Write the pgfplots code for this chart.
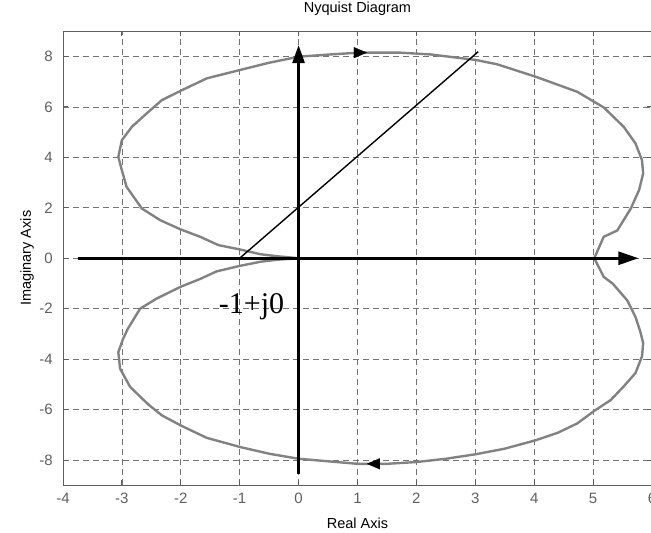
\documentclass[border=0pt]{standalone}
\usepackage{fontspec}
\setmainfont{Liberation Sans}
\newfontfamily\pointfont{Liberation Serif}
\usepackage{pgfplots}
\usepackage{pgfplotstable}
\pgfplotsset{compat=1.18}
\usetikzlibrary{arrows.meta}

\definecolor{axgray}{RGB}{95,95,95}
\definecolor{curvegray}{RGB}{130,130,130}
\definecolor{gridgray}{RGB}{115,115,115}

% Nyquist locus: lower branch from (5,0) to the origin, then upper branch back
\pgfplotstableread{
re im
5.02 0.00
5.18 -0.74
5.33 -1.00
5.58 -1.67
5.72 -2.33
5.80 -2.90
5.85 -3.36
5.83 -3.89
5.72 -4.55
5.52 -5.08
5.30 -5.62
5.02 -6.05
4.73 -6.55
4.40 -6.92
4.02 -7.22
3.50 -7.55
3.01 -7.77
2.50 -7.95
2.00 -8.08
1.50 -8.15
1.00 -8.15
0.50 -8.05
0.00 -7.95
-0.50 -7.75
-1.00 -7.48
-1.56 -7.12
-2.00 -6.63
-2.32 -6.23
-2.55 -5.80
-2.86 -5.10
-3.03 -4.38
-3.06 -3.72
-2.98 -3.20
-2.90 -2.80
-2.69 -2.00
-2.41 -1.60
-2.01 -1.14
-1.67 -0.82
-1.39 -0.52
-0.99 -0.30
-0.65 -0.14
-0.37 -0.06
0.00 0.00
-0.37 0.08
-0.65 0.16
-1.00 0.35
-1.36 0.52
-1.67 0.85
-2.01 1.15
-2.35 1.51
-2.66 1.97
-2.92 2.83
-3.00 3.49
-3.06 4.02
-3.00 4.68
-2.83 5.21
-2.58 5.74
-2.32 6.27
-2.00 6.64
-1.56 7.13
-1.00 7.46
-0.50 7.75
0.00 7.99
0.54 8.08
1.02 8.15
1.73 8.15
2.24 8.08
3.01 7.86
3.37 7.69
4.02 7.20
4.73 6.60
5.18 5.98
5.52 5.21
5.72 4.55
5.83 3.89
5.85 3.36
5.78 2.70
5.64 1.97
5.41 1.10
5.18 0.85
5.02 0.00
}\nyquistlocus

\begin{document}
\begin{tikzpicture}
\begin{axis}[
  x=58.85pt, y=25.2pt,
  xmin=-4, xmax=6, ymin=-9, ymax=9,
  xtick={-4,-3,...,6}, ytick={-8,-6,...,8},
  grid=major,
  major grid style={gridgray, line width=0.7pt, dash pattern=on 6pt off 4pt},
  axis line style={axgray, line width=0.9pt},
  tick style={axgray, line width=0.8pt},
  tick align=inside, major tick length=5pt,
  /pgf/number format/assume math mode=true,
  ticklabel style={text=axgray, font=\fontsize{15}{16}\selectfont},
  xticklabel style={anchor=base, yshift=-18pt},
  yticklabel style={anchor=east, inner sep=0pt, xshift=-10pt},
  title={Nyquist Diagram},
  title style={at={(axis description cs:0.5,1)}, anchor=base, yshift=13pt,
    font=\fontsize{14.5}{15}\selectfont},
  xlabel={Real Axis},
  xlabel style={at={(axis description cs:0.5,0)}, anchor=base, yshift=-43pt,
    font=\fontsize{14.5}{15}\selectfont},
  ylabel={Imaginary Axis},
  ylabel style={at={(axis description cs:-0.0545,0.5)}, anchor=base,
    font=\fontsize{14.5}{15}\selectfont},
  clip=false,
]
\coordinate (bl) at (rel axis cs:0,0);
\coordinate (tr) at (rel axis cs:1,1);

% locus
\addplot[curvegray, line width=2.4pt, line join=round] table[x=re, y=im] {\nyquistlocus};

% direction arrows on the locus
\addplot[curvegray, line width=0.1pt,
  -{Triangle[length=13pt, width=11pt, black]}] coordinates {(0.90,8.15) (1.16,8.15)};
\addplot[curvegray, line width=0.1pt,
  -{Triangle[length=13pt, width=11pt, black]}] coordinates {(1.42,-8.15) (1.16,-8.15)};

% real and imaginary axes
\addplot[black, line width=2.6pt, -{Triangle[length=20pt, width=13pt]}]
  coordinates {(-3.75,0) (5.77,0)};
\addplot[black, line width=2.6pt, -{Triangle[length=18pt, width=12pt]}]
  coordinates {(0,-8.55) (0,8.45)};

% line through the critical point
\addplot[black, line width=1.4pt] coordinates {(-1,0) (3.05,8.19)};

\node[font=\pointfont\fontsize{30}{31}\selectfont, anchor=base, inner sep=0pt]
  at (axis cs:-0.80,-2.18) {-1+j0};
\end{axis}
\pgfresetboundingbox
\useasboundingbox ([xshift=-62.9pt,yshift=-47.2pt]bl) rectangle ([xshift=-1pt,yshift=31.2pt]tr);
\end{tikzpicture}
\end{document}
